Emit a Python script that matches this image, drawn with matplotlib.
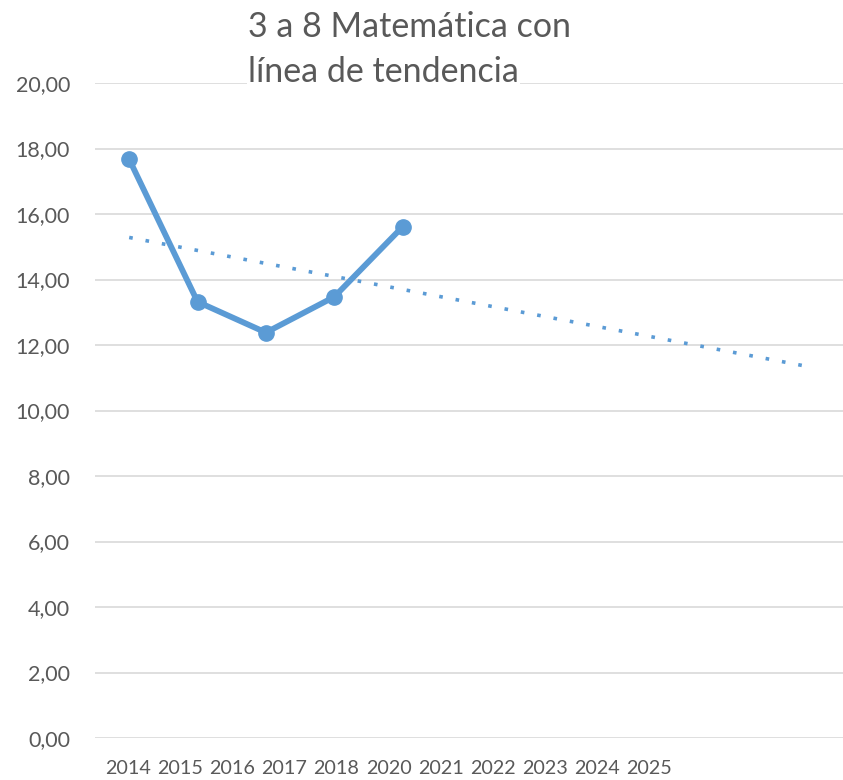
import matplotlib
matplotlib.use("Agg")
import matplotlib.pyplot as plt
import numpy as np

# datos del gráfico
years = ["2014", "2015", "2016", "2017", "2018", "2020", "2021", "2022", "2023", "2024", "2025"]
values = [17.67, 13.32, 12.38, 13.47, 15.61]
y_ticks = [0, 2, 4, 6, 8, 10, 12, 14, 16, 18, 20]
title_lines = ["3 a 8 Matemática con", "línea de tendencia"]

BLUE = "#5B9BD5"
TEXT = "#595959"
GRID = "#D9D9D9"

plt.rcParams["font.family"] = ["Lato", "DejaVu Sans"]

W, H = 843, 780
fig = plt.figure(figsize=(W / 100, H / 100), dpi=100)
# área de trazado en píxeles: izquierda 95, derecha 847, arriba 83, abajo 738
ax = fig.add_axes([95 / W, (H - 738) / H, (847 - 95) / W, (738 - 83) / H])

x = np.arange(len(values))
ax.plot(x, values, color=BLUE, linewidth=4.2, marker="o", markersize=11,
        solid_capstyle="round", solid_joinstyle="round", zorder=3)

# línea de tendencia lineal extendida a todas las categorías
coef = np.polyfit(x, values, 1)
xt = np.arange(len(years))
ax.plot(xt, np.polyval(coef, xt), color=BLUE, linewidth=2.6,
        linestyle=(0, (1, 3.6)), dash_capstyle="butt", zorder=2)

ax.set_xlim(-0.5, len(years) - 0.5)
ax.set_ylim(0, 20)
ax.set_yticks(y_ticks)
ax.set_yticklabels([f"{v:.2f}".replace(".", ",") for v in y_ticks])
ax.set_xticks([])
ax.tick_params(axis="y", length=0, pad=18, labelsize=15.5, labelcolor=TEXT)
ax.grid(axis="y", color=GRID, linewidth=1.2)
ax.set_axisbelow(True)
for s in ax.spines.values():
    s.set_visible(False)

# etiquetas del eje x, en una fila compacta
for i, lab in enumerate(years):
    fig.text((128 + i * 52.1) / W, 1 - 769 / H, lab, ha="center", va="center",
             fontsize=14.2, color=TEXT)

# título en dos líneas, con fondo blanco sobre la línea de cuadrícula
fig.text(248 / W, 1 - 37 / H, title_lines[0], ha="left", va="baseline",
         fontsize=24.5, color=TEXT)
fig.text(248 / W, 1 - 82 / H, title_lines[1], ha="left", va="baseline",
         fontsize=24.5, color=TEXT,
         bbox=dict(facecolor="white", edgecolor="none", pad=0.5))

fig.savefig("out.png", dpi=100)
